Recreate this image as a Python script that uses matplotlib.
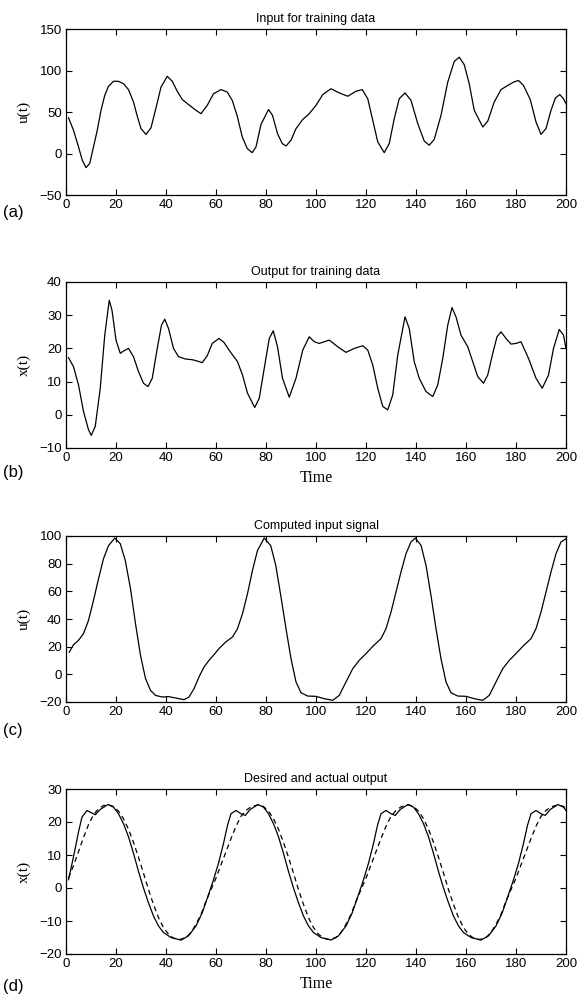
import matplotlib
matplotlib.use("Agg")
import matplotlib.pyplot as plt

# ---------------- data ----------------
# (a) Input for training data
t_a = [1, 3, 5, 6.5, 8, 9.5, 11, 12.5, 14, 15.5, 17, 19, 21, 23, 25, 27, 28.5, 30, 32,
       34, 36, 38, 40.5, 42.5, 44.5, 46.5, 49, 52, 54, 56.5, 59, 62, 64.5, 66.5, 68.5,
       70.5, 72.5, 74.5, 76, 78, 81, 82.6, 84.6, 86.5, 88, 90, 92, 94.7, 97.3, 100,
       102.7, 106, 109.3, 112.7, 116, 118.5, 120.7, 122.7, 124.7, 127.3, 129.3, 131.3,
       133.3, 135.6, 138, 140.7, 143.3, 145.3, 147.3, 150, 152.7, 155.3, 157.3, 159.3,
       161.3, 163.3, 166.7, 168.7, 171.3, 174, 176.7, 179, 181, 183, 185.7, 188, 190,
       192, 194, 195.8, 197.5, 199, 200]
u_a = [43, 28, 8, -8, -17, -12, 8, 28, 52, 70, 81, 87, 87, 84, 77, 62, 45, 30, 23,
       31, 55, 80, 93, 87, 75, 65, 59, 52, 48, 58, 72, 77, 74, 64, 45,
       20, 6, 1, 8, 35, 53, 46, 24, 12, 9, 16, 30, 41, 48, 58,
       71, 78, 73, 69, 75, 77, 66, 40, 14, 1, 12, 42,
       66, 73, 64, 36, 15, 10, 17, 46, 86, 111, 116, 107,
       84, 52, 32, 39, 62, 77, 82, 86, 88, 82, 65, 38, 23,
       30, 52, 67, 71, 66, 60]

# (b) Output for training data
t_b = [1, 3, 5, 7, 9, 10.1, 11.7, 13.7, 15.5, 17.3, 18.4, 20, 21.7, 23, 25, 27, 29, 31,
       32.8, 34.5, 36.5, 38.2, 39.5, 41, 43, 45, 47.8, 50.5, 52.5, 54.5, 56.5, 58.5,
       61.2, 63.2, 65.2, 68.6, 70.6, 72.6, 75.5, 77.3, 79.3, 81.3, 82.9, 84.6, 86.6,
       89.3, 92, 94.7, 97.3, 99.3, 101.3, 105.3, 108.7, 112, 115.3, 118.7, 120.7, 122.7,
       124.7, 126.7, 128.7, 130.7, 132.7, 135.6, 137.3, 139.3, 141.3, 144, 146.7, 148.7,
       150.7, 152.7, 154.4, 156, 158, 160.7, 162.7, 164.7, 167, 168.7, 170.7, 172.4, 174,
       176, 178, 180, 182, 185, 188, 190.5, 193, 195, 197.3, 199, 200]
x_b = [17.2, 14.5, 9, 1, -4.5, -6.2, -3.5, 8, 24, 34.5, 31.5, 22.5, 18.5, 19.2, 20, 17.5, 13, 9.5,
       8.5, 11, 20, 27, 28.8, 26, 20, 17.5, 16.8, 16.6, 16.2, 15.7, 17.8, 21.5,
       23, 21.8, 19.5, 16, 12, 6.5, 2.2, 5, 14, 23, 25.3, 20.5, 11,
       5.3, 11, 19.5, 23.5, 22, 21.5, 22.5, 20.5, 18.8, 20, 20.8, 19.5, 15,
       8, 2.5, 1.5, 6, 18, 29.5, 26, 16, 11, 7, 5.5, 9,
       17, 27, 32.3, 29.5, 24, 20.5, 16, 11.5, 9.5, 12, 18.5, 23.5, 25,
       23, 21.3, 21.5, 22, 17, 11, 8, 12, 20, 25.7, 24, 20]

# (c) Computed input signal
t_c = [1.3, 3, 5, 7, 9, 11, 13, 15, 17, 19.5, 21.7, 23.7, 25.8, 27.8, 29.8, 31.8, 33.8,
       35.8, 38.5, 41, 43.8, 47.2, 49.2, 51.2, 53.2, 55.2, 57.2, 59.2, 61.2, 63.9, 66.6,
       68.6, 70.6, 72.6, 74.6, 76.6, 79.3, 81.9, 83.9, 85.9, 88, 90, 92, 94, 96.7, 100,
       103.3, 106.7, 109.3, 112, 114.7, 117.3, 120, 122.7, 126, 128, 130, 132, 134, 136,
       138, 139.7, 142, 144, 146, 148, 150, 152, 154, 156.7, 160, 163.3, 166.7, 169.3,
       172, 174.7, 177.3, 180, 182.7, 186, 188, 190, 192, 194, 196, 198, 200]
u_c = [16, 21.4, 24.6, 29.4, 39, 53.5, 69, 83.6, 93, 98.5, 94.5, 82.4, 62, 36.6, 13.7, -3, -11.6,
       -15.2, -16.4, -16.1, -17.1, -18.3, -16.4, -10.4, -1.9, 5.3, 10.1, 14.2, 18.6, 23.4, 27,
       33, 43.9, 58.3, 75.2, 89.6, 98.5, 93, 78.8, 57, 33, 11.3, -5.5, -13.3, -15.7, -15.9,
       -17.6, -18.8, -15.2, -5.5, 4.1, 10.1, 15, 20.2, 25.8, 33, 45, 59.5, 74, 87.2,
       95.7, 98.5, 93.3, 78.8, 57, 33, 11.3, -5.5, -13.3, -15.7, -15.9, -17.6, -18.8, -15.2,
       -5.5, 4.1, 10.1, 15, 20.2, 25.8, 33, 45, 59.5, 74, 87.2, 95.7, 98]

# (d) Desired and actual output: solid (actual) and dashed (desired)
t_d_solid = [1, 2.3, 3.7, 5, 6.4, 8.4, 10.1, 11.7, 13.7, 16.8, 19, 21, 23, 25, 27, 29, 31, 33,
             35, 37, 39, 42, 46, 49, 52, 54.5, 57, 59, 61, 63, 64.6, 66, 68, 70, 71.7, 73.7,
             76.8, 79, 81, 83, 85, 87, 89, 91, 93, 95, 97, 99, 102, 106, 109, 112, 114.5,
             117, 119, 121, 123, 124.6, 126, 128, 130, 131.7, 133.7, 136.8, 139, 141, 143,
             145, 147, 149, 151, 153, 155, 157, 159, 162, 166, 169, 172, 174.5, 177, 179,
             181, 183, 184.6, 186, 188, 190, 191.7, 193.7, 196.8, 199, 200]
x_d_solid = [2.5, 7, 12, 17, 21.5, 23.5, 22.8, 22.2, 23.8, 25.3, 24.5, 22.5, 19.5, 15.5, 10.5, 5, 0, -4.5,
             -8.5, -11.5, -13.5, -15, -15.8, -14.5, -11.5, -7.5, -2, 2.5, 7.5, 13.5, 19, 22.5, 23.5, 22.5, 22, 23.8,
             25.3, 24.5, 22.5, 19.5, 15.5, 10.5, 5, 0, -4.5, -8.5, -11.5, -13.5, -15, -15.8, -14.5, -11.5, -7.5,
             -2, 2.5, 7.5, 13.5, 19, 22.5, 23.5, 22.5, 22, 23.8, 25.3, 24.5, 22.5, 19.5,
             15.5, 10.5, 5, 0, -4.5, -8.5, -11.5, -13.5, -15, -15.8, -14.5, -11.5, -7.5, -2, 2.5,
             7.5, 13.5, 19, 22.5, 23.5, 22.5, 22, 23.8, 25.3, 24.5, 23.5]
t_d_dash = [1, 3, 5, 7, 9, 11, 13, 15, 17, 19, 21, 23, 25, 27, 29, 31, 33, 35, 37, 39, 41, 43,
            45.5, 48, 50, 52, 54, 56, 58, 60, 62, 64, 66, 68, 70, 72, 74, 77, 79, 81, 83, 85,
            87, 89, 91, 93, 95, 97, 99, 101, 103, 105.5, 108, 110, 112, 114, 116, 118, 120,
            122, 124, 126, 128, 130, 132, 134, 137, 139, 141, 143, 145, 147, 149, 151, 153,
            155, 157, 159, 161, 163, 165.5, 168, 170, 172, 174, 176, 178, 180, 182, 184, 186,
            188, 190, 192, 194, 197, 199, 200]
x_d_dash = [3, 6.8, 11, 15.3, 19.2, 22.2, 24, 25, 25.2, 24.7, 23.3, 21, 17.8, 13.8, 9.3, 4.5, -0.5, -5, -9, -12, -14, -15.2,
            -15.6, -15, -13.5, -11, -8, -4, -0.5, 3, 7, 11, 15, 18.7, 21.7, 23.5, 24.6, 25.2, 24.7, 23.3, 21, 17.8,
            13.8, 9.3, 4.5, -0.5, -5, -9, -12, -14, -15.2, -15.6, -15, -13.5, -11, -8, -4, -0.5, 3,
            7, 11, 15, 18.7, 21.7, 23.5, 24.6, 25.2, 24.7, 23.3, 21, 17.8, 13.8, 9.3, 4.5, -0.5,
            -5, -9, -12, -14, -15.2, -15.6, -15, -13.5, -11, -8, -4, -0.5, 3, 7, 11, 15,
            18.7, 21.7, 23.5, 24.6, 25.2, 24.7, 24.2]

titles = ["Input for training data", "Output for training data",
          "Computed input signal", "Desired and actual output"]
ylabels = ["u(t)", "x(t)", "u(t)", "x(t)"]
panel_tags = ["(a)", "(b)", "(c)", "(d)"]
ylims = [(-50, 150), (-10, 40), (-20, 100), (-20, 30)]
ysteps = [50, 10, 20, 10]
xticks = list(range(0, 201, 20))

# ---------------- figure ----------------
fig = plt.figure(figsize=(5.77, 10), dpi=100)
sans = "Liberation Sans"
serif = "Liberation Serif"

left, width = 66 / 577, 500 / 577
tops = [29, 282, 536, 789]
bottoms = [195, 448, 702, 954]
tag_y = [213, 473, 731, 986]

series = [[(t_a, u_a, "-")], [(t_b, x_b, "-")], [(t_c, u_c, "-")],
          [(t_d_solid, x_d_solid, "-"), (t_d_dash, x_d_dash, "--")]]

for i in range(4):
    ax = fig.add_axes([left, 1 - bottoms[i] / 1000, width, (bottoms[i] - tops[i]) / 1000])
    for tt, yy, ls in series[i]:
        if ls == "--":
            ax.plot(tt, yy, color="black", lw=0.9, linestyle=(0, (4, 3)))
        else:
            ax.plot(tt, yy, color="black", lw=0.9)
    lo, hi = ylims[i]
    ax.set_xlim(0, 200)
    ax.set_ylim(lo, hi)
    ax.set_xticks(xticks)
    ax.set_yticks(list(range(lo, hi + 1, ysteps[i])))
    ax.tick_params(direction="in", top=True, right=True, length=4, width=0.8,
                   labelsize=9.5, pad=3)
    for lab in ax.get_xticklabels() + ax.get_yticklabels():
        lab.set_fontfamily(sans)
    for s in ax.spines.values():
        s.set_linewidth(0.9)
    ax.set_title(titles[i], fontsize=9, family=sans, pad=5)
    ax.set_ylabel(ylabels[i], fontsize=11, family=serif, labelpad=6)
    if i in (1, 3):
        ax.set_xlabel("Time", fontsize=11.5, family=serif, labelpad=4)
    fig.text(3 / 577, 1 - tag_y[i] / 1000, panel_tags[i], fontsize=12, family=sans,
             ha="left", va="center")

fig.savefig("out.png", dpi=100)
